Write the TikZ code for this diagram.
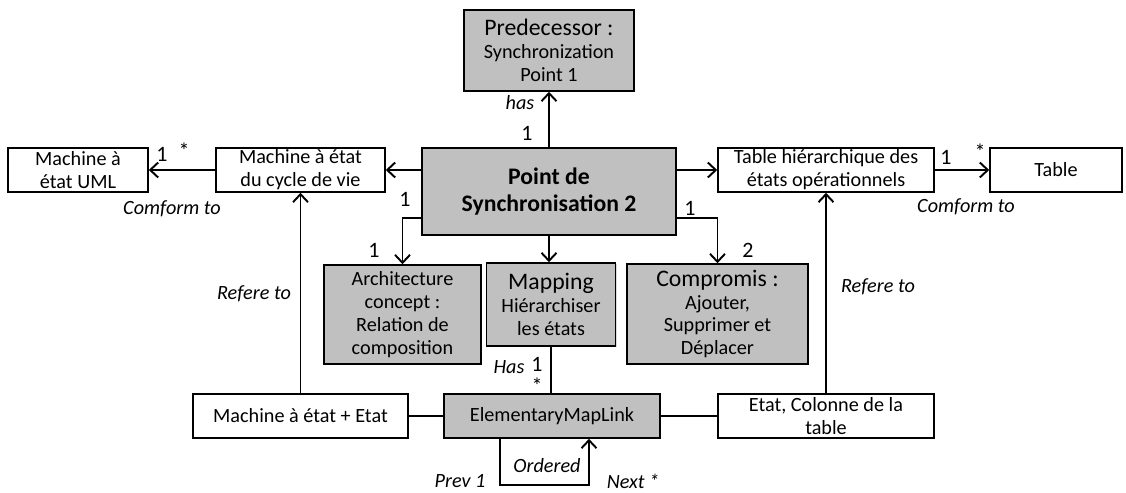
\documentclass[tikz,border=0pt]{standalone}
\usepackage{fontspec}
\setmainfont{Carlito}
\usetikzlibrary{arrows.meta,positioning,shadows}
\definecolor{boxgray}{RGB}{192,192,192}
\newcommand\bigtxt{\fontsize{13.5}{15.5}\selectfont}
\tikzset{
  cls/.style={rectangle, draw, fill=white, align=center, inner sep=0pt, line width=0.9pt, font=\fontsize{11.5}{13}\selectfont, drop shadow={shadow xshift=0.7pt, shadow yshift=-0.7pt, opacity=0.3}},
  clsgray/.style={cls, fill=boxgray},
  arr/.style={-{Straight Barb[length=1.6mm,width=3mm]}, line width=1.1pt},
  lnk/.style={line width=1.1pt},
  lbl/.style={font=\fontsize{11.5}{12}\selectfont\itshape},
  mult/.style={inner sep=0.5pt, font=\fontsize{12.5}{13}\selectfont}
}

\begin{document}
\begin{tikzpicture}[x=0.02cm, y=0.02cm]
\useasboundingbox (0,0) rectangle (1126,-493);

% classes
\node[clsgray, minimum width=3.4cm, minimum height=1.62cm] (pred) at (549,-50.5) {{\bigtxt Predecessor :}\\Synchronization\\Point 1};
\node[clsgray, minimum width=5.08cm, minimum height=1.74cm, font=\bigtxt\bfseries] (point) at (549,-191.5) {Point de\\Synchronisation 2};
\node[cls, minimum width=2.8cm, minimum height=0.88cm] (uml) at (78,-170) {Machine à\\état UML};
\node[cls, minimum width=3.38cm, minimum height=0.88cm] (cycle) at (300.5,-170) {Machine à état\\du cycle de vie};
\node[cls, minimum width=4.32cm, minimum height=0.88cm] (thier) at (826,-170) {Table hiérarchique des\\états opérationnels};
\node[cls, minimum width=2.64cm, minimum height=0.88cm] (table) at (1056,-170) {Table};
\node[clsgray, minimum width=3.14cm, minimum height=1.98cm] (arch) at (402.5,-314.5) {Architecture\\concept :\\Relation de\\composition};
\node[clsgray, minimum width=2.58cm, minimum height=1.66cm] (mapping) at (551,-304.5) {{\bigtxt Mapping}\\Hiérarchiser\\les états};
\node[clsgray, minimum width=3.62cm, minimum height=2cm] (compromis) at (717.5,-314) {{\bigtxt Compromis :}\\Ajouter,\\Supprimer et\\Déplacer};
\node[cls, minimum width=4.3cm, minimum height=0.88cm] (mse) at (300.5,-416) {Machine à état + Etat};
\node[clsgray, minimum width=4.32cm, minimum height=0.88cm] (eml) at (552,-416) {ElementaryMapLink};
\node[cls, minimum width=4.32cm, minimum height=0.88cm] (etatcol) at (826,-416) {Etat, Colonne de la\\table};

% links
\draw[arr] (point.north) -- (pred);
\draw[arr] (point.west |- cycle) -- (cycle);
\draw[arr] (point.east |- thier) -- (thier);
\draw[arr] (cycle) -- (uml);
\draw[arr] (thier) -- (table);
\draw[arr] ([yshift=0.36cm]point.south west) -| (arch.north);
\draw[arr] (point.south) -- (point.south |- mapping.north);
\draw[arr] ([yshift=0.36cm]point.south east) -| (compromis.north);
\draw[lnk] (mapping.south) -- (mapping.south |- eml.north);
\draw[lnk] (mse) -- (eml);
\draw[lnk] (eml) -- (etatcol);
\draw[arr] (mse) -- (cycle);
\draw[arr] (etatcol) -- (thier);
\draw[arr] ([xshift=-1.04cm]eml.south) -- ++(0,-0.92cm) -| ([xshift=0.74cm]eml.south);

% labels
\node[lbl] (lhas) at (520,-103) {has};
\node[mult] (mpred) at (527,-133) {1};
\node[mult] (muml1) at (162,-154) {1};
\node[mult] (muml2) at (184,-151) {*};
\node[lbl] (lconf1) at (172,-209) {Comform to};
\node[mult] (mtab1) at (946,-157) {1};
\node[mult] (mtab2) at (980,-152) {*};
\node[lbl] (lconf2) at (966,-207) {Comform to};
\node[mult] (march1) at (405,-199) {1};
\node[mult] (march2) at (374,-250) {1};
\node[mult] (mcomp1) at (690,-208) {1};
\node[mult] (mcomp2) at (748,-250) {2};
\node[lbl] (lref1) at (254,-294) {Refere to};
\node[lbl] (lref2) at (878,-287) {Refere to};
\node[lbl] (lmap) at (509,-367) {Has};
\node[mult] (mmap1) at (537,-364) {1};
\node[mult] (mmap2) at (537,-386) {*};
\node[lbl] (lord) at (547,-466) {Ordered};
\node[lbl] (lprev) at (460,-481) {Prev 1};
\node[lbl] (lnext) at (633,-481) {Next *};
\end{tikzpicture}
\end{document}
